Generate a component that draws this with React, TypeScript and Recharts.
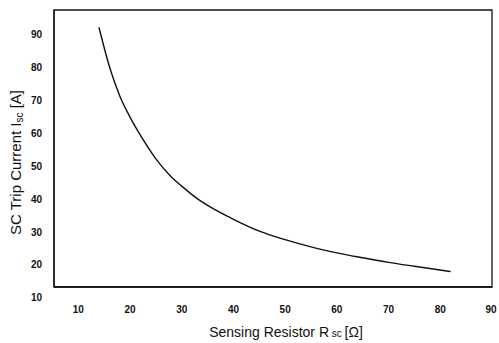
import { Line, LineChart, ReferenceArea, XAxis, YAxis } from "recharts";

const resistance = [14, 16, 18, 20, 22, 25, 28, 30, 33, 36, 40, 45, 50, 55, 60, 65, 70, 75, 82];
const tripCurrent = [92.3, 80.5, 71.5, 65, 59.5, 52.3, 46.8, 44, 40.2, 37.2, 33.9, 30.3, 27.7, 25.5, 23.7, 22.2, 20.8, 19.6, 18];
const xTicks = [10, 20, 30, 40, 50, 60, 70, 80, 90];
const yTicks = [10, 20, 30, 40, 50, 60, 70, 80, 90];

const data = resistance.map((r, i) => ({ r, i: tripCurrent[i] }));

const font = "'Liberation Sans', Arial, sans-serif";
const xDomain: [number, number] = [5.3, 90];
const yDomain: [number, number] = [13.3, 97.6];

function YTitle({ viewBox }: any) {
  const cx = 15;
  const cy = viewBox ? viewBox.y + viewBox.height / 2 + 14 : 162;
  return (
    <text
      x={cx}
      y={cy}
      transform={`rotate(-90 ${cx} ${cy})`}
      textAnchor="middle"
      dominantBaseline="central"
      fontFamily={font}
      fontSize={15}
      fill="#111"
    >
      SC Trip Current I<tspan fontSize={10} dy={4}>sc</tspan>
      <tspan dy={-4}> [A]</tspan>
    </text>
  );
}

function XTitle() {
  return (
    <text x={286} y={337} textAnchor="middle" fontFamily={font} fontSize={14} fill="#111">
      Sensing Resistor R<tspan fontSize={10}> sc </tspan>[Ω]
    </text>
  );
}

function YTick({ x, y, payload }: any) {
  return (
    <text x={x - 4} y={y} textAnchor="end" dominantBaseline="central" fontFamily={font} fontSize={10} fontWeight="bold" fill="#111">
      {payload.value}
    </text>
  );
}

function XTick({ x, y, payload }: any) {
  return (
    <text x={x} y={y + 14} textAnchor="middle" dominantBaseline="central" fontFamily={font} fontSize={10} fontWeight="bold" fill="#111">
      {payload.value}
    </text>
  );
}

export default function App() {
  return (
    <div style={{ position: "absolute", left: 0, top: 0, width: 499, height: 343, background: "#fff" }}>
      <LineChart width={499} height={343} data={data} margin={{ top: 10, right: 7, bottom: 26, left: 14 }}>
        <XAxis
          dataKey="r"
          type="number"
          domain={xDomain}
          ticks={xTicks}
          allowDataOverflow
          tickLine={false}
          axisLine={{ stroke: "#111", strokeWidth: 1.3 }}
          tick={<XTick />}
          height={30}
          label={<XTitle />}
        />
        <YAxis
          type="number"
          domain={yDomain}
          ticks={yTicks}
          allowDataOverflow
          tickLine={false}
          axisLine={{ stroke: "#111", strokeWidth: 1.3 }}
          tick={<YTick />}
          width={40}
          label={<YTitle />}
        />
        <ReferenceArea
          x1={xDomain[0]}
          x2={xDomain[1]}
          y1={yDomain[0]}
          y2={yDomain[1]}
          fill="none"
          stroke="#111"
          strokeWidth={1.3}
          ifOverflow="visible"
        />
        <Line dataKey="i" type="monotone" stroke="#111" strokeWidth={1.4} dot={false} isAnimationActive={false} />
      </LineChart>
    </div>
  );
}
